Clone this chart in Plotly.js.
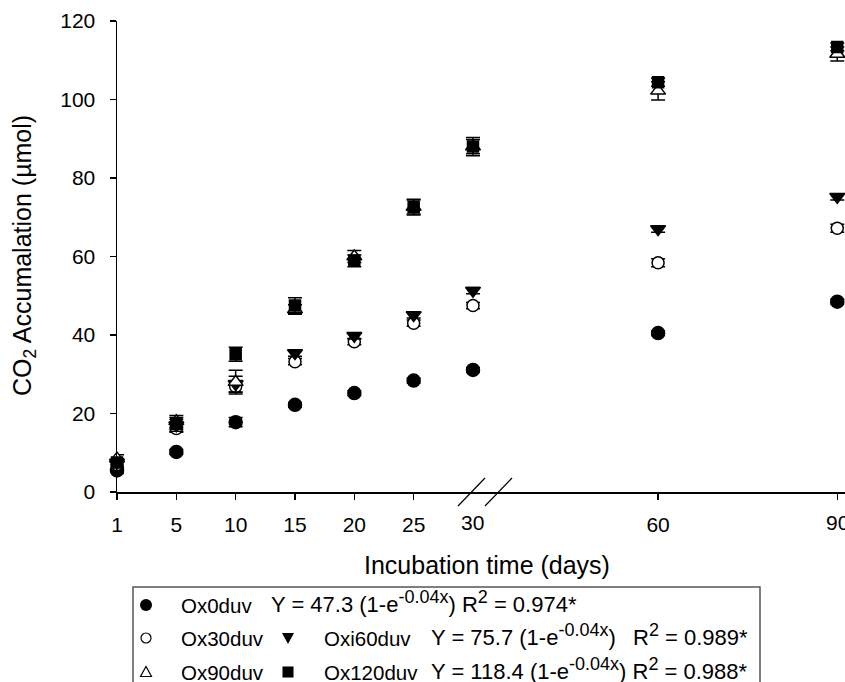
<!DOCTYPE html>
<html>
<head>
<meta charset="utf-8">
<script src="https://cdn.plot.ly/plotly-3.0.1.min.js"></script>
<style>html,body{margin:0;padding:0;background:#fff;}#chart{width:845px;height:682px;}</style>
</head>
<body>
<div id="chart"></div>
<script>
// ---- data ----
const days = [1, 5, 10, 15, 20, 25, 30, 60, 90];
const tickLabels = ['1', '5', '10', '15', '20', '25', '30', '60', '90'];
const ox0 = [5.5, 10.2, 17.8, 22.2, 25.2, 28.4, 31.1, 40.5, 48.5];
const ox0Err = [0.8, 0.6, 1.2, 0.6, 0.6, 0.6, 0.6, 0.6, 0.6];
const ox30 = [7.0, 16.2, 26.9, 33.2, 38.3, 43.0, 47.5, 58.4, 67.2];
const ox30Err = [1.0, 1.0, 1.5, 0.8, 0.8, 0.8, 0.8, 1.0, 1.0];
const ox60 = [7.5, 17.0, 27.5, 35.4, 39.8, 45.1, 51.3, 67.0, 75.2];
const ox60Err = [1.0, 1.5, 2.0, 0.8, 0.8, 0.8, 0.8, 0.8, 0.8];
const ox90 = [8.5, 18.0, 28.0, 46.5, 60.0, 72.6, 88.0, 102.2, 111.6];
const ox90Err = [1.0, 1.5, 3.0, 1.2, 1.5, 1.8, 1.8, 2.3, 1.8];
const ox120 = [7.5, 17.5, 35.1, 47.5, 58.9, 72.6, 88.0, 104.4, 113.4];
const ox120Err = [1.0, 1.5, 1.8, 2.0, 1.5, 2.0, 2.3, 1.0, 1.0];
const seriesNames = ['Ox0duv', 'Ox30duv', 'Oxi60duv', 'Ox90duv', 'Ox120duv'];
const SUP = s => '<sup><span style="font-size:18px">' + s + '</span></sup>';
const equations = [
  'Y = 47.3 (1-e' + SUP('-0.04x') + ') R' + SUP('2') + ' = 0.974*',
  'Y = 75.7 (1-e' + SUP('-0.04x') + ')',
  'R' + SUP('2') + ' = 0.989*',
  'Y = 118.4 (1-e' + SUP('-0.04x') + ') R' + SUP('2') + ' = 0.988*'
];

// ---- broken x axis scale: 1..30 evenly spaced, then a second segment for 60, 90 ----
const shortDays = [1, 5, 10, 15, 20, 25, 30];
function pos(d) {
  const i = shortDays.indexOf(d);
  if (i >= 0) return i;
  return 6.1 + (d - 30) * 3.02 / 30;
}
const xs = days.map(pos);

// ---- figure geometry helpers (layout only) ----
const W = 845, H = 682, L = 117, T = 21, B = 190, R = 0;
const plotW = W - L - R, plotH = H - T - B;
const px2x = p => (p - L) / plotW;
const py2y = p => (H - B - p) / plotH;

const FONT = 'Liberation Sans, Arial, sans-serif';

function tr(y, err, name, symbol, size, fill) {
  return {
    type: 'scatter', mode: 'markers', name: name,
    x: xs, y: y,
    error_y: {type: 'data', array: err, visible: true, color: '#000', thickness: 1.5, width: 7},
    marker: {symbol: symbol, size: size, color: fill, line: {color: '#000', width: 1.5}},
    cliponaxis: false, showlegend: false
  };
}

const traces = [
  tr(ox0, ox0Err, seriesNames[0], 'circle', 13, '#000'),
  tr(ox30, ox30Err, seriesNames[1], 'circle', 12, '#fff'),
  tr(ox60, ox60Err, seriesNames[2], 'triangle-down', 13, '#000'),
  tr(ox90, ox90Err, seriesNames[3], 'triangle-up', 13, '#fff'),
  tr(ox120, ox120Err, seriesNames[4], 'square', 11, '#000')
];

const tickDays = days.filter(d => d !== 30);
const xrangeMax = plotW / 59.33;

const ann = [];
// "30" (under the axis break) and "90" (at the right edge) drawn as labels below the axis
[30, 90].forEach(d => {
  ann.push({xref: 'x', yref: 'paper', x: pos(d), y: 0, yshift: -30, yanchor: 'middle', xanchor: 'center',
    text: tickLabels[days.indexOf(d)], showarrow: false, font: {family: FONT, size: 21, color: '#000'}});
});
// axis titles
ann.push({xref: 'paper', yref: 'paper', x: px2x(487), y: py2y(565), xanchor: 'center', yanchor: 'middle',
  text: 'Incubation time (days)', showarrow: false, font: {family: FONT, size: 25, color: '#000'}});
ann.push({xref: 'paper', yref: 'paper', x: px2x(24), y: py2y(256), xanchor: 'center', yanchor: 'middle', textangle: -90,
  text: 'CO<sub>2</sub> Accumalation (µmol)', showarrow: false, font: {family: FONT, size: 25, color: '#000'}});

// legend box contents
function legText(txt, px, pyc, size) {
  ann.push({xref: 'paper', yref: 'paper', x: px2x(px), y: py2y(pyc + 13), xanchor: 'left', yanchor: 'bottom',
    text: txt, showarrow: false, font: {family: FONT, size: size, color: '#000'}, borderpad: 0});
}
const NF = 20.5, EF = 22;
const rows = [605, 638, 672];
legText(seriesNames[0], 180, rows[0], NF);
legText(equations[0], 270, rows[0], EF);
legText(seriesNames[1], 180, rows[1], NF);
legText(seriesNames[2], 323, rows[1], NF);
legText(equations[1], 430, rows[1], EF);
legText(equations[2], 632, rows[1], EF);
legText(seriesNames[3], 180, rows[2], NF);
legText(seriesNames[4], 323, rows[2], NF);
legText(equations[3], 430, rows[2], EF);

function legMark(type, px, pyc, opts) {
  return Object.assign({
    type: type, xref: 'paper', yref: 'paper', xsizemode: 'pixel', ysizemode: 'pixel',
    xanchor: px2x(px), yanchor: py2y(pyc)
  }, opts);
}

const shapes = [
  // legend frame
  {type: 'rect', xref: 'paper', yref: 'paper', x0: px2x(133), x1: px2x(760), y0: py2y(587), y1: py2y(720),
    line: {color: '#555', width: 1.5}, fillcolor: 'rgba(0,0,0,0)'},
  // axis break marks
  {type: 'line', xref: 'paper', yref: 'paper', x0: px2x(458), y0: py2y(506), x1: px2x(485), y1: py2y(478),
    line: {color: '#000', width: 1.2}},
  {type: 'line', xref: 'paper', yref: 'paper', x0: px2x(485), y0: py2y(506), x1: px2x(512), y1: py2y(478),
    line: {color: '#000', width: 1.2}},
  // legend symbols
  legMark('circle', 146, rows[0], {x0: -6, x1: 6, y0: -6, y1: 6, fillcolor: '#000', line: {width: 0}}),
  legMark('circle', 146, rows[1], {x0: -5, x1: 5, y0: -5, y1: 5, fillcolor: '#fff', line: {color: '#000', width: 1.2}}),
  legMark('path', 288, rows[1], {path: 'M -6 5 L 6 5 L 0 -6 Z', fillcolor: '#000', line: {width: 0}}),
  legMark('path', 146, rows[2], {path: 'M -5.5 -4.5 L 5.5 -4.5 L 0 5.5 Z', fillcolor: '#fff', line: {color: '#000', width: 1.2}}),
  legMark('rect', 288, rows[2], {x0: -5.5, x1: 5.5, y0: -5.5, y1: 5.5, fillcolor: '#000', line: {width: 0}})
];

const layout = {
  width: W, height: H,
  margin: {l: L, r: R, t: T, b: B, pad: 0},
  paper_bgcolor: '#fff', plot_bgcolor: '#fff',
  showlegend: false,
  font: {family: FONT, color: '#000'},
  xaxis: {
    range: [0, xrangeMax], showgrid: false, zeroline: false,
    showline: true, linecolor: '#000', linewidth: 1.5,
    ticks: 'outside', ticklen: 6, tickwidth: 1.5, tickcolor: '#000',
    tickvals: tickDays.map(pos), ticktext: tickDays.map(d => d === 90 ? '' : tickLabels[days.indexOf(d)]),
    tickfont: {family: FONT, size: 21, color: '#000'}, ticklabelstandoff: 7,
    fixedrange: true
  },
  yaxis: {
    range: [0, 120], showgrid: false, zeroline: false,
    showline: true, linecolor: '#000', linewidth: 1.5,
    ticks: 'outside', ticklen: 6, tickwidth: 1.5, tickcolor: '#000',
    tickvals: [0, 20, 40, 60, 80, 100, 120],
    tickfont: {family: FONT, size: 21, color: '#000'}, ticklabelstandoff: 10,
    fixedrange: true
  },
  annotations: ann,
  shapes: shapes
};

Plotly.newPlot('chart', traces, layout, {displayModeBar: false, staticPlot: true});
</script>
</body>
</html>
